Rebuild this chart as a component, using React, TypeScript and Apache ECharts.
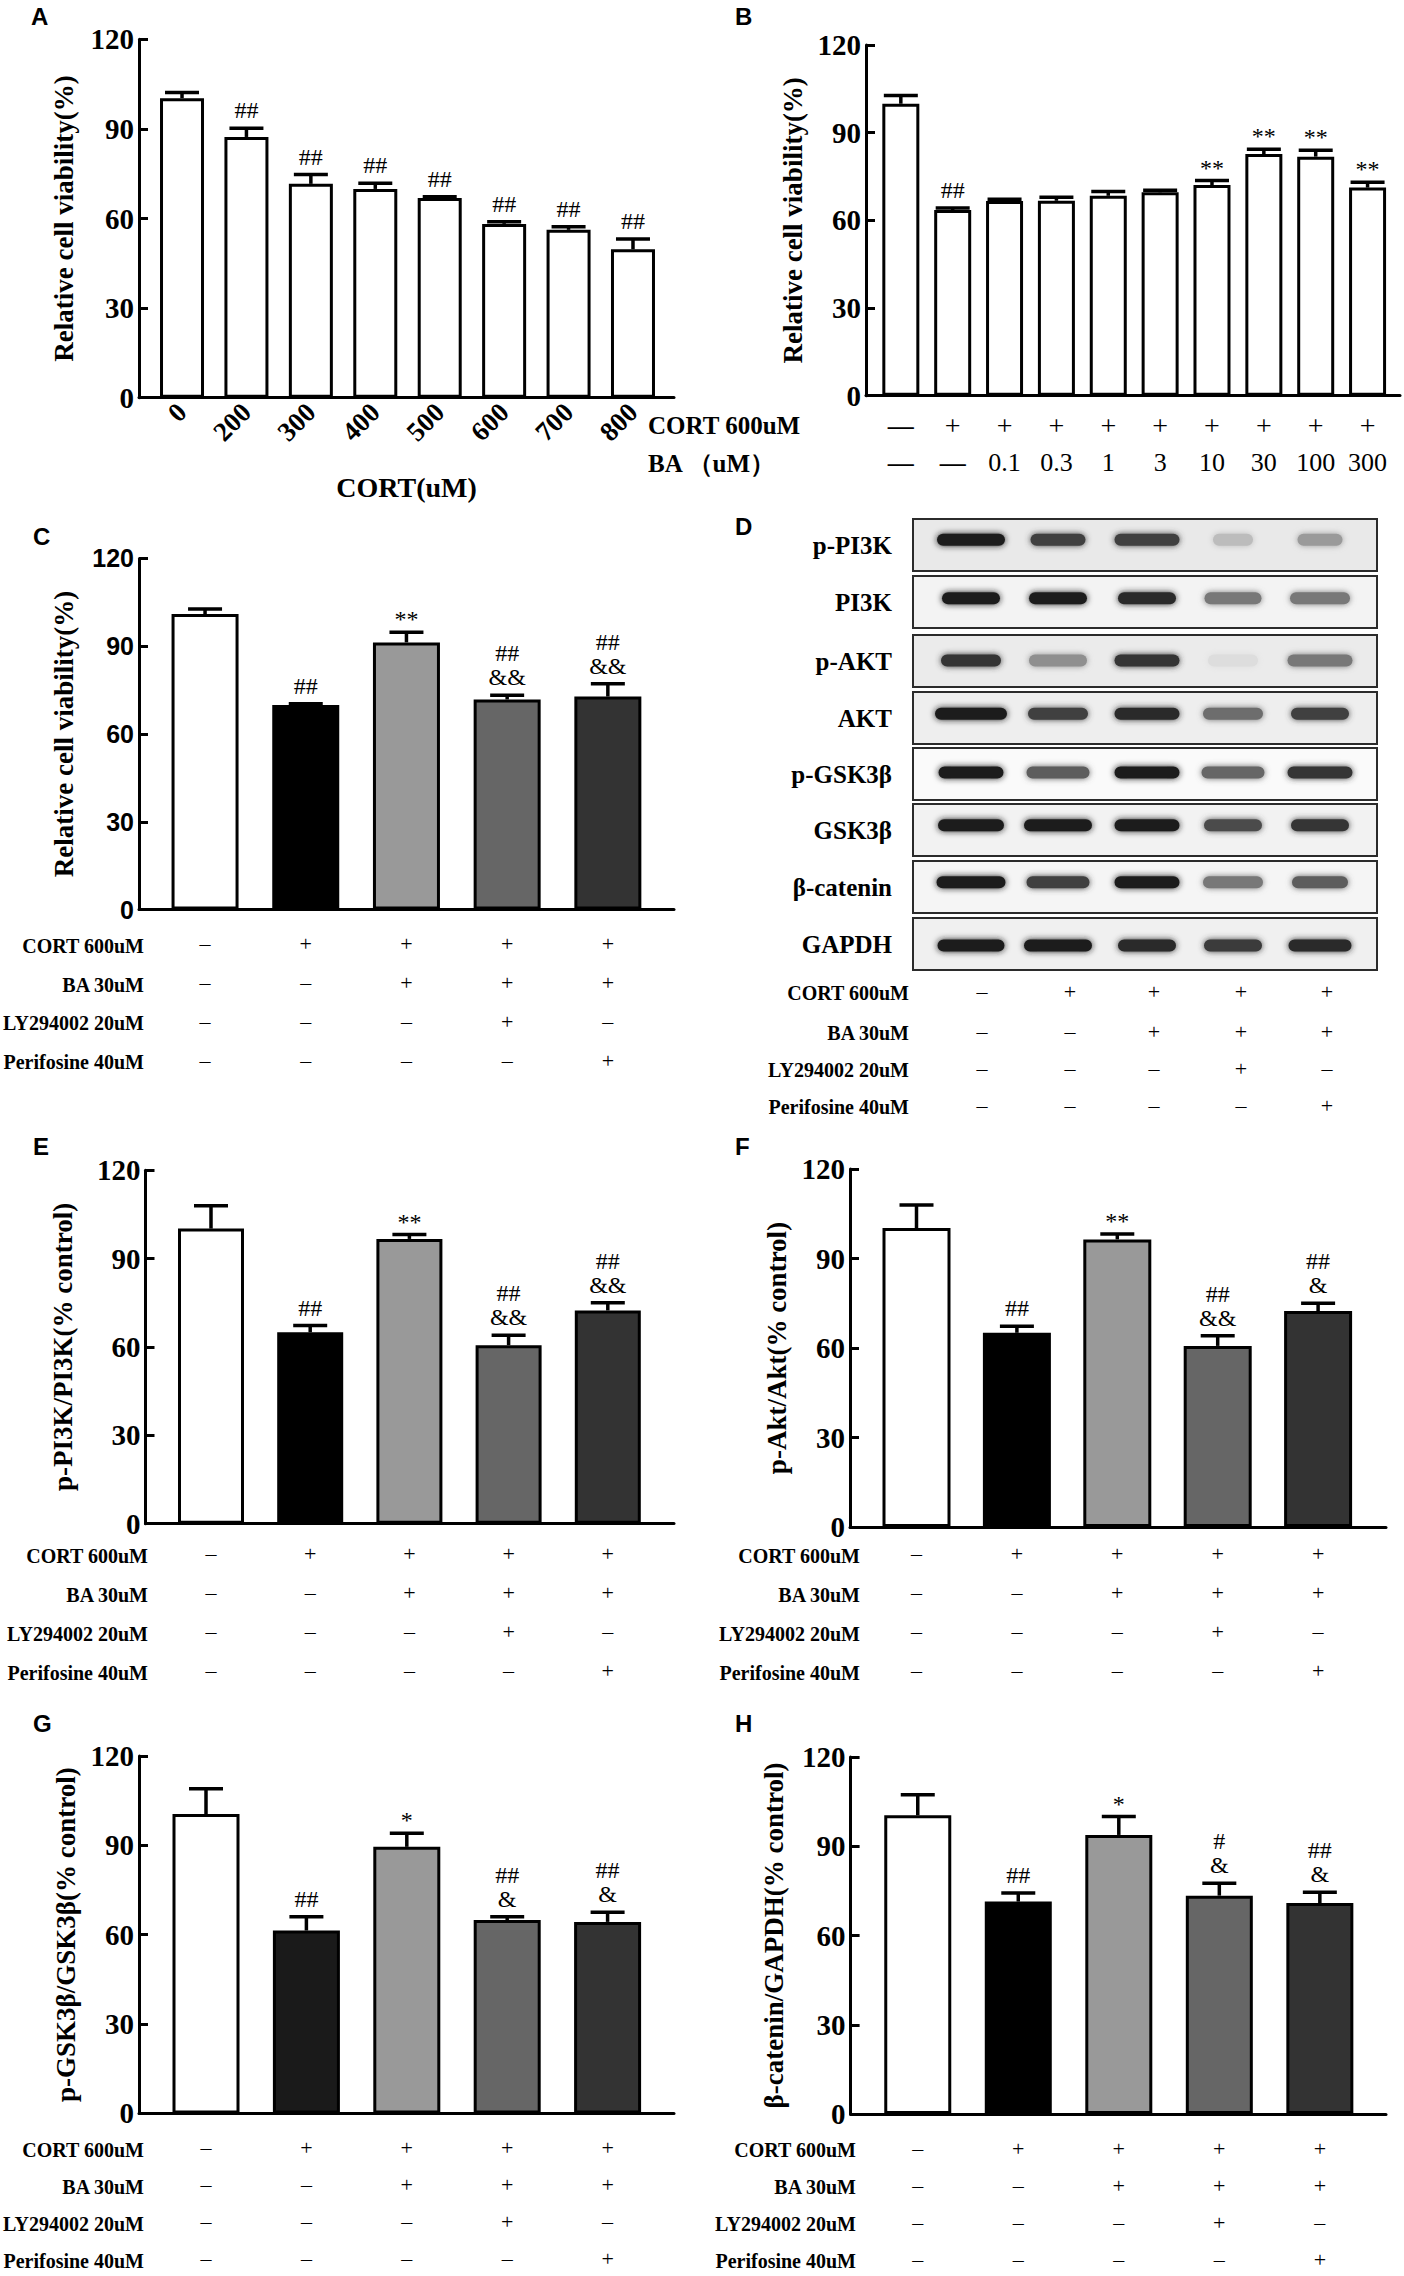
import React, { useEffect, useRef } from 'react';
import * as echarts from 'echarts';

const SERIF = '"Liberation Serif", "Times New Roman", serif';
const SANS = '"Liberation Sans", Arial, sans-serif';

// ---------- Panel A ----------
const A_CATS = ['0', '200', '300', '400', '500', '600', '700', '800'];
const A_VALUES = [100.3, 87.3, 71.6, 69.9, 66.9, 58.2, 56.2, 49.7];
const A_SD = [1.9, 2.9, 3.1, 1.9, 0.4, 0.7, 1.0, 3.4];
const A_MARKS = ['', '##', '##', '##', '##', '##', '##', '##'];

// ---------- Panel B ----------
const B_CORT = ['—', '+', '+', '+', '+', '+', '+', '+', '+', '+'];
const B_BA = ['—', '—', '0.1', '0.3', '1', '3', '10', '30', '100', '300'];
const B_VALUES = [99.9, 63.5, 66.6, 66.7, 68.4, 69.6, 72.1, 82.7, 81.8, 71.2];
const B_SD = [2.8, 0.7, 0.6, 1.2, 1.5, 0.7, 1.5, 1.6, 2.2, 1.8];
const B_MARKS = ['', '##', '', '', '', '', '**', '**', '**', '**'];

// ---------- Treatment rows (C–H) ----------
const ROW_NAMES = ['CORT 600uM', 'BA 30uM', 'LY294002 20uM', 'Perifosine 40uM'];
const ROW_CORT = ['–', '+', '+', '+', '+'];
const ROW_BA = ['–', '–', '+', '+', '+'];
const ROW_LY = ['–', '–', '–', '+', '–'];
const ROW_PERI = ['–', '–', '–', '–', '+'];
const GROUPS = ['Control', 'CORT', 'CORT+BA', 'CORT+BA+LY', 'CORT+BA+Peri'];

// ---------- Panel C ----------
const C_VALUES = [101.0, 69.9, 91.3, 71.8, 72.8];
const C_SD = [1.7, 0.4, 3.5, 1.4, 4.4];
const C_MARKS = ['', '##', '**', '##\n&&', '##\n&&'];

// ---------- Panel E ----------
const E_VALUES = [100.2, 65.0, 96.7, 60.6, 72.4];
const E_SD = [7.8, 2.3, 1.5, 3.4, 2.6];
const E_MARKS = ['', '##', '**', '##\n&&', '##\n&&'];

// ---------- Panel F ----------
const F_VALUES = [100.2, 65.1, 96.4, 60.7, 72.4];
const F_SD = [7.7, 2.2, 1.8, 3.4, 2.6];
const F_MARKS = ['', '##', '**', '##\n&&', '##\n&'];

// ---------- Panel G ----------
const G_VALUES = [100.5, 61.4, 89.5, 64.9, 64.3];
const G_SD = [8.5, 4.6, 4.6, 1.1, 3.2];
const G_MARKS = ['', '##', '*', '##\n&', '##\n&'];

// ---------- Panel H ----------
const H_VALUES = [100.4, 71.4, 93.8, 73.4, 70.9];
const H_SD = [6.9, 2.9, 6.2, 4.2, 3.6];
const H_MARKS = ['', '##', '*', '#\n&', '##\n&'];

const Y_TICKS_MAX = 120;
const Y_TICK_STEP = 30;

// ---------- Panel D (western blot) ----------
const BLOT_PROTEINS = ['p-PI3K', 'PI3K', 'p-AKT', 'AKT', 'p-GSK3β', 'GSK3β', 'β-catenin', 'GAPDH'];
const BLOT_INTENSITY = [
  [1.0, 0.85, 0.85, 0.3, 0.45],
  [1.0, 1.0, 0.95, 0.6, 0.6],
  [0.9, 0.5, 0.9, 0.15, 0.6],
  [1.0, 0.85, 0.95, 0.65, 0.85],
  [1.0, 0.72, 1.0, 0.68, 0.9],
  [1.0, 1.0, 1.0, 0.8, 0.9],
  [1.0, 0.85, 1.0, 0.6, 0.72],
  [1.0, 1.0, 0.95, 0.88, 0.95],
];

// layout / styling (not data)
const BLOT_LAYOUT = {
  left: 913,
  right: 1377,
  tops: [519, 576, 635, 692, 748, 804, 861, 918],
  h: 52,
  lanes: [971, 1058, 1147, 1233, 1320],
  bandPos: [0.4, 0.43, 0.49, 0.42, 0.47, 0.41, 0.41, 0.53],
  bandW: [
    [68, 55, 65, 40, 45],
    [58, 58, 58, 57, 60],
    [60, 58, 65, 50, 65],
    [72, 60, 65, 60, 58],
    [65, 63, 65, 63, 65],
    [66, 68, 65, 58, 58],
    [69, 63, 65, 60, 56],
    [67, 68, 58, 58, 63],
  ],
  fills: ['#e9e9e9', '#f3f3f3', '#ebebeb', '#eeeeee', '#fafafa', '#f2f2f2', '#f5f5f5', '#f0f0f0'],
};

const COLORS5 = ['#ffffff', '#000000', '#999999', '#666666', '#333333'];
const COLORS5G = ['#ffffff', '#1a1a1a', '#999999', '#666666', '#333333'];

function errRender(params: any, api: any) {
  const x = api.value(0);
  const v = api.value(1);
  const s = api.value(2);
  const p0 = api.coord([x, v]);
  const p1 = api.coord([x, v + s]);
  const st = { stroke: '#000', lineWidth: 3.5 };
  return {
    type: 'group',
    children: [
      { type: 'line', shape: { x1: p0[0], y1: p0[1], x2: p1[0], y2: p1[1] }, style: st },
      { type: 'line', shape: { x1: p1[0] - 17, y1: p1[1], x2: p1[0] + 17, y2: p1[1] }, style: st },
    ],
  };
}

function buildOption() {
  const grid: any[] = [];
  const xAxis: any[] = [];
  const yAxis: any[] = [];
  const series: any[] = [];
  const graphics: any[] = [];

  function addPanel(p: any) {
    const gi = grid.length;
    const h = p.frame[3] - p.frame[2];
    grid.push({ left: p.frame[0], top: p.frame[2], width: p.frame[1] - p.frame[0], height: h, containLabel: false, outerBoundsMode: 'none' });
    grid.push({ left: p.data[0], top: p.frame[2], width: p.data[1], height: h, containLabel: false, outerBoundsMode: 'none' });
    xAxis.push({
      gridIndex: gi, type: 'value', min: 0, max: 1,
      axisLine: { show: true, onZero: false, lineStyle: { color: '#000', width: 3 } },
      axisTick: { show: false }, axisLabel: { show: false }, splitLine: { show: false },
      name: p.xName || '', nameLocation: 'middle', nameGap: p.xNameGap || 0,
      nameTextStyle: { color: '#000', fontSize: 28, fontWeight: 'bold', fontFamily: SERIF },
    });
    yAxis.push({
      gridIndex: gi, type: 'value', min: 0, max: Y_TICKS_MAX, interval: Y_TICK_STEP,
      axisLine: { show: true, lineStyle: { color: '#000', width: 3 } },
      axisTick: { show: true, inside: true, length: 9, lineStyle: { color: '#000', width: 3 } },
      axisLabel: { color: '#000', fontSize: p.tickSize || 29, fontWeight: 'bold', fontFamily: p.tickFont || SERIF, margin: 5 },
      splitLine: { show: false },
      name: p.yName, nameLocation: 'middle', nameGap: p.yNameGap,
      nameTextStyle: { color: '#000', fontSize: 27, fontWeight: 'bold', fontFamily: SERIF },
    });
    const xi = xAxis.length;
    xAxis.push({
      gridIndex: gi + 1, type: 'category', data: p.cats,
      axisLine: { show: false }, axisTick: { show: false }, splitLine: { show: false },
      axisLabel: p.xLabel,
    });
    yAxis.push({ gridIndex: gi + 1, type: 'value', min: 0, max: Y_TICKS_MAX, show: false });
    series.push({
      type: 'bar', xAxisIndex: xi, yAxisIndex: xi, barWidth: p.barWidth, z: 3,
      data: p.values.map((v: number, i: number) => ({ value: v, itemStyle: { color: p.colors[i] } })),
      itemStyle: { borderColor: '#000', borderWidth: 3 },
    });
    series.push({
      type: 'custom', xAxisIndex: xi, yAxisIndex: xi, z: 4,
      data: p.values.map((v: number, i: number) => [i, v, p.sd[i]]),
      renderItem: errRender,
    });
    series.push({
      type: 'custom', xAxisIndex: xi, yAxisIndex: xi, z: 5,
      data: p.values.map((v: number, i: number) => [i, v + p.sd[i]]),
      renderItem: (params: any, api: any) => {
        const mark = p.marks[params.dataIndex];
        if (!mark) return null;
        const pt = api.coord([api.value(0), api.value(1)]);
        const off = mark.startsWith('*') ? 1 : 6;
        return {
          type: 'text', x: pt[0], y: pt[1] - off,
          style: { text: mark, fill: '#000', font: `24px ${SERIF}`, align: 'center', verticalAlign: 'bottom', lineHeight: 24 },
        };
      },
    });
  }

  const rowLabel = (margin: number, lh: number) => ({
    interval: 0, margin, lineHeight: lh, fontSize: 22, fontFamily: SERIF, color: '#000',
    formatter: (_v: string, i: number) => [ROW_CORT[i], ROW_BA[i], ROW_LY[i], ROW_PERI[i]].join('\n'),
  });

  const addRowNames = (xRight: number, yFirst: number, pitch: number) => {
    ROW_NAMES.forEach((n, j) => {
      graphics.push({
        type: 'text', x: xRight, y: yFirst + j * pitch,
        style: { text: n, fill: '#000', font: `bold 20px ${SERIF}`, align: 'right', verticalAlign: 'middle' },
      });
    });
  };

  // A
  addPanel({
    frame: [139, 674, 39.3, 397.7], data: [149.8, 515.4], cats: A_CATS, values: A_VALUES, sd: A_SD,
    marks: A_MARKS, colors: A_VALUES.map(() => '#ffffff'), barWidth: 44,
    yName: 'Relative cell viability(%)', yNameGap: 62, xName: 'CORT(uM)', xNameGap: 76,
    xLabel: { interval: 0, rotate: 45, fontSize: 27, fontWeight: 'bold', fontFamily: SERIF, color: '#000', margin: 10 },
  });

  // B
  const mk = (s: string) => (s === '—' ? `{dash|—}` : s === '+' ? `{plus|+}` : `{num|${s}}`);
  addPanel({
    frame: [866, 1400, 45, 395.7], data: [874.9, 518.6], cats: B_BA.map((b, i) => `${B_CORT[i]} ${b}`),
    values: B_VALUES, sd: B_SD, marks: B_MARKS, colors: B_VALUES.map(() => '#ffffff'), barWidth: 37,
    yName: 'Relative cell viability(%)', yNameGap: 60,
    xLabel: {
      interval: 0, margin: 11, color: '#000',
      formatter: (_v: string, i: number) => `${mk(B_CORT[i])}\n${mk(B_BA[i])}`,
      rich: {
        dash: { fontSize: 26, fontWeight: 'bold', fontFamily: SERIF, lineHeight: 37, color: '#000' },
        plus: { fontSize: 28, fontFamily: SERIF, lineHeight: 37, color: '#000' },
        num: { fontSize: 26, fontFamily: SERIF, lineHeight: 37, color: '#000' },
      },
    },
  });
  graphics.push({ type: 'text', x: 648, y: 425, style: { text: 'CORT 600uM', fill: '#000', font: `bold 25px ${SERIF}`, align: 'left', verticalAlign: 'middle' } });
  graphics.push({ type: 'text', x: 648, y: 463, style: { text: 'BA （uM）', fill: '#000', font: `bold 25px ${SERIF}`, align: 'left', verticalAlign: 'middle' } });

  // C
  addPanel({
    frame: [139, 674, 558.4, 909.6], data: [154.7, 503.5], cats: GROUPS, values: C_VALUES, sd: C_SD,
    marks: C_MARKS, colors: COLORS5, barWidth: 67, tickFont: SANS, tickSize: 25,
    yName: 'Relative cell viability(%)', yNameGap: 62, xLabel: rowLabel(14, 39),
  });
  addRowNames(144, 946, 38.5);

  // E
  addPanel({
    frame: [145.5, 674, 1170.3, 1523.7], data: [161.4, 496], cats: GROUPS, values: E_VALUES, sd: E_SD,
    marks: E_MARKS, colors: COLORS5, barWidth: 66,
    yName: 'p-PI3K/PI3K(% control)', yNameGap: 69, xLabel: rowLabel(10, 39),
  });
  addRowNames(148, 1556, 39);

  // F
  addPanel({
    frame: [850, 1386, 1169, 1527], data: [866.3, 502], cats: GROUPS, values: F_VALUES, sd: F_SD,
    marks: F_MARKS, colors: COLORS5, barWidth: 68,
    yName: 'p-Akt/Akt(% control)', yNameGap: 60, xLabel: rowLabel(7, 39),
  });
  addRowNames(860, 1556, 39);

  // G
  addPanel({
    frame: [139, 674, 1756, 2113.4], data: [155.8, 502], cats: GROUPS, values: G_VALUES, sd: G_SD,
    marks: G_MARKS, colors: COLORS5G, barWidth: 67,
    yName: 'p-GSK3β/GSK3β(% control)', yNameGap: 60, xLabel: rowLabel(16, 37),
  });
  addRowNames(144, 2150, 37);

  // H
  addPanel({
    frame: [850.6, 1386, 1757, 2114], data: [867.5, 502.6], cats: GROUPS, values: H_VALUES, sd: H_SD,
    marks: H_MARKS, colors: COLORS5, barWidth: 67,
    yName: 'β-catenin/GAPDH(% control)', yNameGap: 63, xLabel: rowLabel(16, 37),
  });
  addRowNames(856, 2150, 37);

  // D blot
  const L = BLOT_LAYOUT;
  BLOT_PROTEINS.forEach((name, r) => {
    const top = L.tops[r];
    graphics.push({
      type: 'rect', shape: { x: L.left, y: top, width: L.right - L.left, height: L.h },
      style: { fill: L.fills[r], stroke: '#2b2b2b', lineWidth: 2 },
    });
    const cy = top + L.h * L.bandPos[r];
    BLOT_INTENSITY[r].forEach((inten, k) => {
      const g = Math.round(255 * (1 - 0.88 * inten));
      const col = `rgb(${g},${g},${g})`;
      const w = L.bandW[r][k];
      graphics.push({
        type: 'rect', shape: { x: L.lanes[k] - w / 2, y: cy - 6, width: w, height: 12, r: 6 },
        style: { fill: col, shadowBlur: 6, shadowColor: col },
      });
    });
    graphics.push({
      type: 'text', x: 892, y: top + L.h / 2,
      style: { text: name, fill: '#000', font: `bold 25px ${SERIF}`, align: 'right', verticalAlign: 'middle' },
    });
  });
  const dRows = [ROW_CORT, ROW_BA, ROW_LY, ROW_PERI];
  const dCols = [982, 1070, 1154, 1241, 1327];
  const dY = [993, 1033, 1070, 1107];
  ROW_NAMES.forEach((n, j) => {
    graphics.push({ type: 'text', x: 909, y: dY[j], style: { text: n, fill: '#000', font: `bold 20px ${SERIF}`, align: 'right', verticalAlign: 'middle' } });
    dRows[j].forEach((m, k) => {
      graphics.push({ type: 'text', x: dCols[k], y: dY[j] - 2, style: { text: m, fill: '#000', font: `22px ${SERIF}`, align: 'center', verticalAlign: 'middle' } });
    });
  });

  // panel letters
  const letters: [string, number, number][] = [
    ['A', 31, 16.5], ['B', 735, 16], ['C', 33, 536], ['D', 735, 526],
    ['E', 33, 1146], ['F', 735, 1146], ['G', 33, 1723], ['H', 735, 1723],
  ];
  letters.forEach(([t, x, y]) => {
    graphics.push({ type: 'text', x, y, style: { text: t, fill: '#000', font: `bold 24px ${SANS}`, align: 'left', verticalAlign: 'middle' } });
  });

  return {
    animation: false,
    backgroundColor: '#ffffff',
    grid, xAxis, yAxis, series,
    graphic: { elements: graphics },
  };
}

export default function App() {
  const ref = useRef<HTMLDivElement>(null);
  useEffect(() => {
    if (!ref.current) return;
    const chart = echarts.init(ref.current, undefined, { renderer: 'svg' });
    chart.setOption(buildOption() as any);
    return () => chart.dispose();
  }, []);
  return (
    <div
      ref={ref}
      style={{ position: 'absolute', left: 0, top: 0, width: 1404, height: 2276, background: '#fff' }}
    />
  );
}
